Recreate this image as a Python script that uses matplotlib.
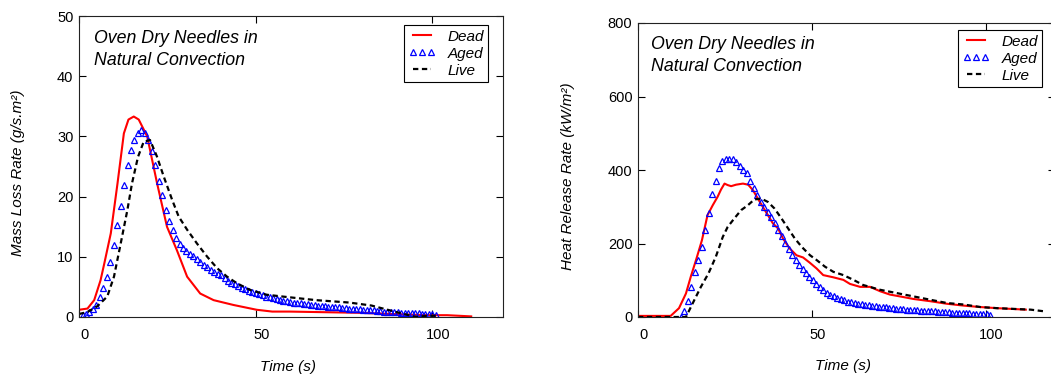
import numpy as np
import matplotlib

matplotlib.use("Agg")
import matplotlib.pyplot as plt
from matplotlib.transforms import ScaledTranslation

# ---- data ----
# left panel: mass loss rate (g/s.m2)
dead_mlr_t = [0, 2.4, 4.3, 6.1, 7.2, 9.0, 10.9, 12.7, 14.0, 15.5, 16.9, 19.3, 22.1, 24.9,
              27.7, 30.6, 34.3, 38.1, 43.7, 50.3, 54.7, 59.6, 69.3, 79.0, 88.7, 98.4,
              104.2, 111.0]
dead_mlr = [1.2, 1.4, 2.8, 6.1, 9.0, 13.9, 22.2, 30.5, 32.8, 33.3, 32.8, 30.0, 22.2, 15.0,
            11.1, 6.7, 3.9, 2.8, 2.0, 1.2, 0.9, 0.9, 0.8, 0.7, 0.5, 0.3, 0.3, 0.1]

live_mlr_t = [0, 2.3, 5.2, 8.0, 9.9, 11.8, 13.7, 15.0, 16.7, 18.3, 20.1, 22.1, 24.0, 26.4,
              28.2, 30.6, 33.4, 36.3, 39.1, 41.9, 44.7, 48.4, 53.1, 57.6, 67.1, 76.5,
              82.8, 90.6, 95.4, 98.4, 101.0]
live_mlr = [0.5, 0.8, 1.8, 3.4, 6.7, 12.2, 17.8, 22.2, 26.6, 29.1, 29.4, 26.6, 23.3, 19.4,
            16.7, 14.5, 12.2, 10.0, 8.1, 6.7, 5.6, 4.5, 3.7, 3.4, 2.8, 2.4, 1.9, 0.7,
            0.0, 0.2, 0.2]

# aged samples, about one per second
aged_mlr_t = np.linspace(1.0, 101.0, 103)
aged_mlr = [0.3, 0.5, 0.9, 1.3, 2.0, 3.4, 4.8, 6.7, 9.2, 12.0,
            15.2, 18.4, 22.0, 25.2, 27.8, 29.4, 30.5, 31.0, 30.5, 29.4,
            27.6, 25.2, 22.6, 20.2, 17.8, 16.0, 14.5, 13.2, 12.2, 11.5,
            11.0, 10.5, 10.1, 9.6, 9.1, 8.7, 8.3, 7.8, 7.5, 7.2,
            6.9, 6.4, 6.0, 5.7, 5.5, 5.2, 4.9, 4.7, 4.4, 4.2,
            4.0, 3.8, 3.6, 3.4, 3.3, 3.1, 3.0, 2.9, 2.7, 2.6,
            2.5, 2.4, 2.3, 2.3, 2.2, 2.1, 2.0, 2.0, 1.9, 1.8,
            1.8, 1.7, 1.7, 1.6, 1.6, 1.5, 1.5, 1.4, 1.4, 1.3,
            1.3, 1.2, 1.2, 1.1, 1.1, 1.0, 1.0, 0.9, 0.9, 0.9,
            0.8, 0.8, 0.7, 0.7, 0.7, 0.6, 0.6, 0.6, 0.5, 0.5,
            0.5, 0.5, 0.4]

# right panel: heat release rate (kW/m2)
dead_hrr_t = [0, 9.4, 11.8, 13.8, 15.2, 16.7, 18.4, 20, 21.5, 22.9, 23.9, 24.9, 25.8,
              26.8, 28.2, 30.2, 31.7, 33.1, 34.5, 35.9, 37.4, 38.8, 40.3, 41.7, 43.6,
              45.6, 47.5, 49.4, 51.4, 53.3, 56.2, 59.1, 61, 63.9, 66.8, 69.7, 72.5,
              75.4, 79.3, 84.1, 88.9, 93.7, 98.6, 103.4, 111.6]
dead_hrr = [3, 3, 24, 64, 110, 155, 209, 277, 304, 327, 347, 363, 359,
            356, 360, 363, 360, 345, 322, 300, 277, 255, 241, 214, 187,
            168, 162, 148, 132, 114, 108, 101, 90, 82, 82, 70, 61,
            56, 49, 43, 36, 31, 27, 24, 20]

live_hrr_t = [0, 13.8, 16.2, 18.1, 20.3, 22.4, 24.4, 25.8, 27.7, 29.7, 31.6, 33.5, 35.5,
              37.4, 39.3, 41.3, 43.2, 45.1, 47.1, 49.5, 51.4, 53.8, 56.2, 59.1, 62, 64.8,
              69.7, 74.5, 79.3, 84.1, 88.9, 93.7, 98.6, 103.4, 108.2, 113, 117.3]
live_hrr = [0, 0, 46, 82, 119, 164, 218, 245, 268, 291, 304, 320, 322,
            313, 295, 268, 241, 214, 191, 168, 155, 137, 123, 114, 101, 87,
            74, 65, 56, 47, 38, 34, 27, 24, 22, 20, 15]

aged_hrr_t = np.linspace(12.3, 101.4, 90)
aged_hrr = [0, 15, 43, 82, 122, 156, 190, 237, 283, 336,
            370, 405, 425, 431, 431, 431, 423, 412, 401, 392,
            370, 351, 332, 312, 298, 287, 273, 256, 238, 220,
            202, 186, 170, 156, 142, 131, 121, 109, 100, 90,
            81, 73, 66, 60, 56, 52, 48, 45, 42, 40,
            38, 36, 35, 34, 32, 31, 30, 28, 27, 26,
            25, 24, 23, 22, 21, 20, 19, 18, 18, 17,
            16, 16, 15, 15, 14, 14, 13, 13, 12, 12,
            11, 11, 10, 10, 9, 9, 8, 8, 7, 6]

note = "Oven Dry Needles in\nNatural Convection"

plt.rcParams["font.family"] = ["Liberation Sans", "DejaVu Sans"]

W, H = 1051, 376


def draw_panel(fig, box, t_dead, dead, t_aged, aged, t_live, live,
               ylim, yticks, ylabel, ylab_x, xlab_x, legend_anchor, note_xy):
    """draws one panel; box is (left, top, right, bottom) in pixels"""
    l, t, r, b = box
    ax = fig.add_axes([l / W, 1 - b / H, (r - l) / W, (b - t) / H])
    ax.plot(t_dead, dead, color="#ff0000", lw=1.5, label="Dead")
    ax.plot(t_aged, aged, ls="none", marker="^", ms=4.2, mfc="none",
            mec="#0000ff", mew=0.9, label="Aged")
    ax.plot(t_live, live, color="black", lw=1.6, ls=(0, (2.4, 1.6)), label="Live")

    ax.set_xlim(0, 120)
    ax.set_ylim(ylim)
    ax.set_xticks([0, 50, 100])
    ax.set_yticks(yticks)
    ax.tick_params(direction="in", top=True, right=True, length=5, width=0.8,
                   labelsize=10.5)
    ax.tick_params(axis="x", pad=8)
    ax.tick_params(axis="y", pad=4)
    # the original tick labels sit a little right of their ticks
    shift = ScaledTranslation(5.5 / 100, 0, fig.dpi_scale_trans)
    for lab in ax.get_xticklabels():
        lab.set_transform(lab.get_transform() + shift)
    for s in ax.spines.values():
        s.set_linewidth(0.8)
        s.set_color("#222222")

    ax.set_xlabel("Time (s)", style="italic", fontsize=11, va="top")
    ax.xaxis.set_label_coords(xlab_x, -0.142)
    ax.set_ylabel(ylabel, style="italic", fontsize=11)
    ax.yaxis.set_label_coords(ylab_x, 0.48)

    ax.text(note_xy[0], note_xy[1], note, transform=ax.transAxes, style="italic",
            fontsize=12.8, va="top", ha="left", linespacing=1.4)

    leg = ax.legend(loc="upper left", bbox_to_anchor=legend_anchor, borderaxespad=0,
                    fancybox=False, edgecolor="black", framealpha=1, numpoints=3,
                    prop={"style": "italic", "size": 11}, handlelength=1.8,
                    handletextpad=0.75, labelspacing=0.2, borderpad=0.3)
    leg.get_frame().set_linewidth(0.8)
    return ax


fig = plt.figure(figsize=(W / 100, H / 100), dpi=100)

draw_panel(fig, (79, 16, 503, 317), dead_mlr_t, dead_mlr, aged_mlr_t, aged_mlr,
           live_mlr_t, live_mlr, (0, 50), [0, 10, 20, 30, 40, 50],
           "Mass Loss Rate (g/s.m\u00b2)", -0.127, 0.493, (0.766, 0.970), (0.035, 0.955))

# the right panel runs past the edge of the picture, as in the original
draw_panel(fig, (638, 23, 1055, 317), dead_hrr_t, dead_hrr, aged_hrr_t, aged_hrr,
           live_hrr_t, live_hrr, (0, 800), [0, 200, 400, 600, 800],
           "Heat Release Rate (kW/m\u00b2)", -0.151, 0.492, (0.767, 0.976), (0.031, 0.956))

fig.savefig("out.png", dpi=100)
